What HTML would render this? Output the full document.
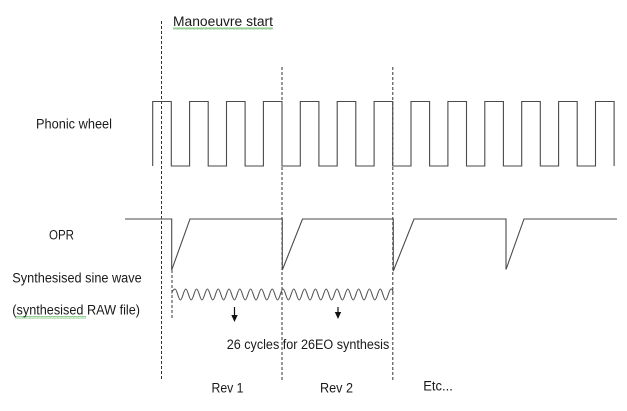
<!DOCTYPE html>
<html>
<head>
<meta charset="utf-8">
<style>
  html,body{margin:0;padding:0;background:#fff;}
  svg{display:block;}
  text{font-family:"Liberation Sans",Arial,sans-serif;font-size:13.5px;fill:#1a1a1a;}
</style>
</head>
<body>
<svg width="627" height="411" viewBox="0 0 627 411" xmlns="http://www.w3.org/2000/svg">
  <defs>
    <pattern id="sq" width="4" height="3" patternUnits="userSpaceOnUse">
      <path d="M0 2.5 L1 0.5 L2 2.5 L3 0.5 L4 2.5" stroke="#7cc47c" fill="none" stroke-width="0.8"/>
    </pattern>
  </defs>
  <rect width="627" height="411" fill="#fff"/>

  <!-- dashed verticals -->
  <g stroke="#333" stroke-width="1" stroke-dasharray="3 2" fill="none">
    <line x1="161.5" y1="21" x2="161.5" y2="381"/>
    <line x1="282" y1="67" x2="282" y2="381"/>
    <line x1="392.8" y1="67" x2="392.8" y2="381"/>
    <line x1="172" y1="270" x2="172" y2="318"/>
  </g>

  <!-- phonic wheel square wave -->
  <path fill="none" stroke="#4a4a4a" stroke-width="1.1"
    d="M152.7 166 V101.5 H171.3 V166 H189.6 V101.5 H208.2 V166 H226.5 V101.5 H245.1 V166 H263.4 V101.5 H282 V166 H300.3 V101.5 H318.9 V166 H337.2 V101.5 H355.8 V166 H374.1 V101.5 H392.7 V166 H411 V101.5 H429.6 V166 H447.9 V101.5 H466.5 V166 H484.8 V101.5 H503.4 V166 H521.7 V101.5 H540.3 V166 H558.6 V101.5 H577.2 V166 H595.5 V101.5 H614.1 V166"/>

  <!-- OPR -->
  <path fill="none" stroke="#4a4a4a" stroke-width="1.1"
    d="M125 219 H171.7 V270 L190 219 H282.3 V270 L302.5 219 H393.3 V271 L414 219 H506 V269.5 L524 219 H617"/>

  <!-- synthesised sine wave -->
  <path fill="none" stroke="#555" stroke-width="1.1"
    d="M171.7 293.5 Q173 289.2 175 289 C176.95 289 178.45 300 180.4 300
    S183.85 289 185.8 289 S189.25 300 191.2 300 S194.65 289 196.6 289 S200.05 300 202 300
    S205.45 289 207.4 289 S210.85 300 212.8 300 S216.25 289 218.2 289 S221.65 300 223.6 300
    S227.05 289 229 289 S232.45 300 234.4 300 S237.85 289 239.8 289 S243.25 300 245.2 300
    S248.65 289 250.6 289 S254.05 300 256 300 S259.45 289 261.4 289 S264.85 300 266.8 300
    S270.25 289 272.2 289 S275.65 300 277.6 300 S281.05 289 283 289 S286.45 300 288.4 300
    S291.85 289 293.8 289 S297.25 300 299.2 300 S302.65 289 304.6 289 S308.05 300 310 300
    S313.45 289 315.4 289 S318.85 300 320.8 300 S324.25 289 326.2 289 S329.65 300 331.6 300
    S335.05 289 337 289 S340.45 300 342.4 300 S345.85 289 347.8 289 S351.25 300 353.2 300
    S356.65 289 358.6 289 S362.05 300 364 300 S367.45 289 369.4 289 S372.85 300 374.8 300
    S378.25 289 380.2 289 S383.65 300 385.6 300 S389.05 289 391 289 S392.6 291.5 393.3 293"/>

  <!-- arrows -->
  <g stroke="#111" stroke-width="1.2">
    <line x1="234.5" y1="307" x2="234.5" y2="316"/>
    <line x1="338" y1="307" x2="338" y2="313"/>
  </g>
  <g fill="#111">
    <polygon points="231.3,315 237.7,315 234.5,322"/>
    <polygon points="334.8,312 341.2,312 338,319"/>
  </g>

  <!-- spellcheck squiggles -->
  <rect x="173" y="27" width="100" height="3" fill="url(#sq)"/>
  <rect x="15" y="316" width="71" height="3" fill="url(#sq)"/>

  <!-- labels -->
  <text x="173" y="26" textLength="100" lengthAdjust="spacingAndGlyphs">Manoeuvre start</text>
  <text x="36" y="128.5" textLength="76" lengthAdjust="spacingAndGlyphs">Phonic wheel</text>
  <text x="49" y="239.5" textLength="25" lengthAdjust="spacingAndGlyphs">OPR</text>
  <text x="12.3" y="282.5" textLength="129.4" lengthAdjust="spacingAndGlyphs">Synthesised sine wave</text>
  <text x="12.3" y="314.5" textLength="127.7" lengthAdjust="spacingAndGlyphs">(synthesised RAW file)</text>
  <text x="226.7" y="349" textLength="162.6" lengthAdjust="spacingAndGlyphs">26 cycles for 26EO synthesis</text>
  <text x="211.5" y="392.5" textLength="32" lengthAdjust="spacingAndGlyphs">Rev 1</text>
  <text x="320" y="392.5" textLength="33" lengthAdjust="spacingAndGlyphs">Rev 2</text>
  <text x="423.3" y="390.5" textLength="29.5" lengthAdjust="spacingAndGlyphs">Etc...</text>
</svg>
</body>
</html>
